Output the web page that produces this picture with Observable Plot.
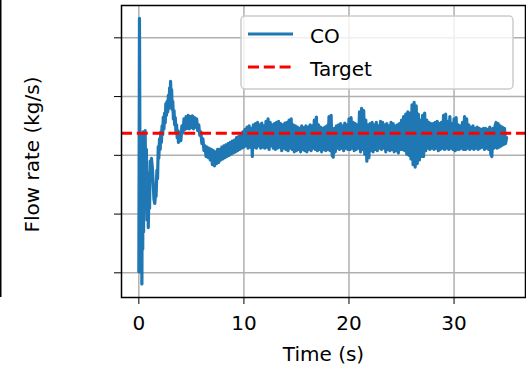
<!DOCTYPE html>
<html>
<head>
<meta charset="utf-8">
<script src="https://cdn.jsdelivr.net/npm/d3@7"></script>
<script src="https://cdn.jsdelivr.net/npm/@observablehq/plot@0.6"></script>
<style>
  html, body { margin: 0; padding: 0; background: #fff; }
  #chart { position: relative; width: 526px; height: 368px; }
</style>
</head>
<body>
<div id="chart"></div>
<script>
// Tick positions (the y axis carries ticks without labels)
const xTicks = [0, 10, 20, 30];
const yTicks = [0, 1, 2, 3, 4];

// Set-point for the CO flow
const target = 2.376;

// Start-up transient: irregular samples (s, flow)
const transientTime = [
  0.00, 0.06, 0.10, 0.13, 0.17, 0.21, 0.25, 0.29, 0.33, 0.37,
  0.41, 0.45, 0.50, 0.55, 0.60, 0.66, 0.72, 0.78, 0.84, 0.90,
  0.96, 1.02, 1.08, 1.14, 1.20, 1.28, 1.36, 1.44, 1.52, 1.58,
  1.64, 1.72, 1.78, 1.85, 1.90, 1.97, 2.03, 2.09, 2.15, 2.21,
  2.27, 2.33, 2.39, 2.45, 2.51, 2.57, 2.63, 2.69, 2.75, 2.81,
  2.87, 2.93, 2.98, 3.02, 3.07, 3.12, 3.17, 3.23, 3.29, 3.35,
  3.41, 3.47, 3.53, 3.59, 3.65, 3.71, 3.77, 3.83, 3.89, 3.95];
const transientFlow = [
  0.02, 4.33, 2.30, 0.10, 2.38, 0.00, 1.90, -0.19, 2.10, 0.40,
  2.40, 0.70, 2.20, 1.10, 2.42, 1.50, 2.10, 0.90, 1.70, 0.77,
  1.40, 1.10, 1.90, 1.60, 1.95, 1.80, 1.55, 1.25, 1.18, 1.35,
  1.30, 1.75, 1.60, 2.15, 1.95, 2.28, 2.10, 2.40, 2.22, 2.50,
  2.35, 2.65, 2.45, 2.72, 2.55, 2.88, 2.68, 2.92, 2.74, 3.02,
  2.80, 3.15, 2.90, 3.26, 2.92, 3.12, 2.78, 2.92, 2.62, 2.76,
  2.52, 2.64, 2.40, 2.52, 2.30, 2.42, 2.22, 2.36, 2.24, 2.40];

// Regulated phase: logged every 0.1 s from t = 4 s (one row per second)
const settledStart = 4.0;
const settledStep = 0.1;
const settledFlow = [
  2.25, 2.50, 2.38, 2.62, 2.44, 2.66, 2.46, 2.68, 2.45, 2.66,
  2.47, 2.67, 2.45, 2.64, 2.48, 2.62, 2.42, 2.52, 2.34, 2.40,
  2.20, 2.28, 2.08, 2.16, 1.98, 2.14, 1.96, 2.12, 1.92, 2.10,
  1.84, 2.08, 1.82, 2.06, 1.86, 2.10, 1.88, 2.10, 1.92, 2.14,
  1.94, 2.16, 1.96, 2.18, 1.98, 2.20, 2.00, 2.22, 2.02, 2.24,
  2.04, 2.26, 2.06, 2.30, 2.08, 2.32, 2.10, 2.36, 2.12, 2.40,
  2.14, 2.44, 2.16, 2.48, 2.12, 2.50, 2.14, 2.46, 1.98, 2.52,
  2.14, 2.54, 2.12, 2.56, 2.16, 2.52, 2.12, 2.55, 2.14, 2.50,
  2.12, 2.58, 2.14, 2.62, 2.10, 2.56, 2.16, 2.52, 2.12, 2.54,
  2.10, 2.56, 2.12, 2.58, 2.14, 2.54, 2.08, 2.52, 2.12, 2.55,
  2.10, 2.56, 2.08, 2.60, 2.12, 2.62, 2.10, 2.52, 2.06, 2.50,
  2.08, 2.48, 2.10, 2.46, 2.06, 2.50, 2.10, 2.47, 2.08, 2.50,
  2.06, 2.48, 2.10, 2.52, 2.08, 2.50, 2.12, 2.60, 2.10, 2.65,
  2.08, 2.52, 2.10, 2.48, 2.06, 2.46, 2.10, 2.48, 2.08, 2.50,
  2.10, 2.66, 2.08, 2.68, 2.00, 1.97, 2.46, 2.06, 2.50, 2.12,
  2.52, 2.10, 2.54, 2.12, 2.50, 2.08, 2.55, 2.12, 2.52, 2.10,
  2.62, 2.10, 2.64, 2.12, 2.56, 2.08, 2.54, 2.10, 2.52, 2.12,
  2.74, 2.06, 2.80, 2.10, 2.76, 2.02, 2.60, 1.90, 2.52, 1.96,
  2.54, 2.08, 2.56, 2.06, 2.52, 2.10, 2.56, 2.08, 2.50, 2.12,
  2.58, 2.10, 2.56, 2.12, 2.52, 2.06, 2.54, 2.10, 2.50, 2.08,
  2.56, 2.10, 2.54, 2.06, 2.50, 2.08, 2.52, 2.04, 2.54, 2.10,
  2.60, 2.10, 2.66, 2.08, 2.70, 2.02, 2.74, 2.00, 2.72, 1.94,
  2.86, 1.84, 2.90, 1.80, 2.84, 1.86, 2.70, 1.92, 2.60, 1.98,
  2.68, 1.98, 2.72, 2.08, 2.60, 2.12, 2.56, 2.10, 2.54, 2.12,
  2.54, 2.10, 2.56, 2.12, 2.58, 2.08, 2.54, 2.10, 2.56, 2.12,
  2.68, 2.10, 2.70, 2.12, 2.58, 2.10, 2.66, 2.12, 2.54, 2.10,
  2.62, 2.08, 2.64, 2.10, 2.52, 2.10, 2.50, 2.12, 2.56, 2.10,
  2.66, 2.10, 2.62, 2.12, 2.52, 2.10, 2.48, 2.12, 2.50, 2.10,
  2.46, 2.12, 2.48, 2.10, 2.46, 2.12, 2.44, 2.14, 2.46, 2.10,
  2.46, 2.12, 2.44, 2.10, 2.48, 2.02, 1.98, 2.46, 2.12, 2.50,
  2.56, 2.12, 2.54, 2.14, 2.50, 2.16, 2.48, 2.18, 2.46, 2.20,
  2.30
];

const series = [
  ...transientTime.map((t, i) => ({t, v: transientFlow[i]})),
  ...settledFlow.map((v, i) => ({t: +(settledStart + i * settledStep).toFixed(2), v}))
];

const blue = "#1f77b4";
const gridStyle = {stroke: "#b0b0b0", strokeOpacity: 1, strokeWidth: 1.5};

const svg = Plot.plot({
  width: 526,
  height: 368,
  marginLeft: 121,
  marginRight: 1,
  marginTop: 5,
  marginBottom: 71,
  x: {domain: [-1.65, 36.8]},
  y: {domain: [-0.42, 4.55]},
  style: {fontFamily: "DejaVu Sans", fontSize: "20px", background: "white", color: "black", overflow: "visible"},
  marks: [
    Plot.gridX(xTicks, gridStyle),
    Plot.gridY(yTicks, gridStyle),
    Plot.line(series, {x: "t", y: "v", stroke: blue, strokeWidth: 3.2, strokeLinejoin: "round", clip: true}),
    Plot.ruleY([target], {stroke: "red", strokeWidth: 3, strokeDasharray: "11,4.8"}),
    Plot.frame({stroke: "black", strokeWidth: 1.5}),
    Plot.axisX(xTicks, {tickSize: 7, tickPadding: 11, label: null, fontSize: 20}),
    Plot.axisY(yTicks, {tickSize: 7, tickFormat: () => "", label: null}),
    Plot.text(["Time (s)"], {text: d => d, frameAnchor: "bottom", dy: 63, fontSize: 20, textAnchor: "middle"}),
    Plot.text(["Flow rate (kg/s)"], {text: d => d, frameAnchor: "left", dx: -89, dy: 3, rotate: -90, fontSize: 20, textAnchor: "middle"})
  ]
});

// Edge of the neighbouring panel along the left border
const root = d3.select(svg);
root.append("line")
  .attr("x1", 0.75).attr("x2", 0.75).attr("y1", 0).attr("y2", 297)
  .attr("stroke", "black").attr("stroke-width", 1.5);

// Legend box in the upper right of the axes
const legend = root.append("g")
  .attr("font-family", "DejaVu Sans").attr("font-size", 20).attr("text-anchor", "start");
legend.append("rect")
  .attr("x", 241).attr("y", 16).attr("width", 272).attr("height", 73).attr("rx", 4)
  .attr("fill", "white").attr("fill-opacity", 0.8)
  .attr("stroke", "#cccccc").attr("stroke-width", 1.5);
const entries = [
  {label: "CO", color: blue, dash: null, y: 34},
  {label: "Target", color: "red", dash: "11,4.8", y: 67}
];
for (const e of entries) {
  legend.append("line")
    .attr("x1", 248).attr("x2", 293).attr("y1", e.y).attr("y2", e.y)
    .attr("stroke", e.color).attr("stroke-width", 3)
    .attr("stroke-dasharray", e.dash);
  legend.append("text")
    .attr("x", 310).attr("y", e.y + 8.5)
    .attr("fill", "black")
    .attr("text-anchor", "start")
    .text(e.label);
}

document.getElementById("chart").append(svg);
</script>
</body>
</html>
